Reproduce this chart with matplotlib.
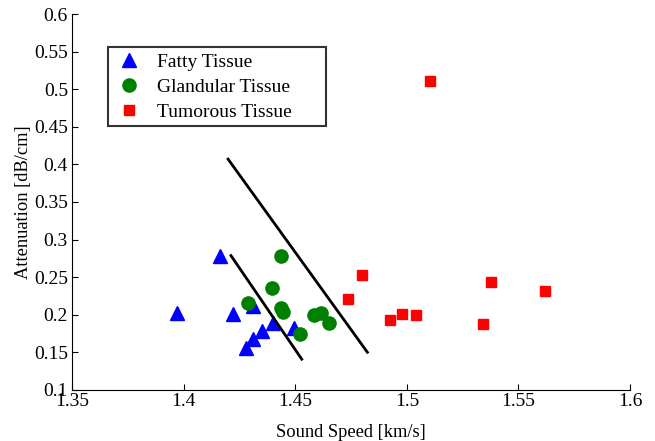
import matplotlib
matplotlib.use('Agg')
import matplotlib.pyplot as plt

# Data
fatty_speed = [1.397, 1.4165, 1.422, 1.431, 1.440, 1.4353, 1.4312, 1.4278, 1.4495]
fatty_atten = [0.202, 0.278, 0.201, 0.212, 0.189, 0.178, 0.1675, 0.1556, 0.182]

gland_speed = [1.4434, 1.4395, 1.4287, 1.4435, 1.4444, 1.4586, 1.4616, 1.465, 1.452]
gland_atten = [0.278, 0.235, 0.215, 0.209, 0.2036, 0.199, 0.2023, 0.189, 0.1747]

tumor_speed = [1.5102, 1.4797, 1.4734, 1.5377, 1.5617, 1.4923, 1.4977, 1.504, 1.5343]
tumor_atten = [0.511, 0.2533, 0.221, 0.244, 0.232, 0.1924, 0.2004, 0.199, 0.187]

# two separating lines
line1_x = [1.4199, 1.4823]
line1_y = [0.407, 0.150]
line2_x = [1.4212, 1.4529]
line2_y = [0.2786, 0.1408]

plt.rcParams['font.family'] = ['Liberation Serif', 'DejaVu Serif']

fig = plt.figure(figsize=(6.55, 4.41), dpi=100)
ax = fig.add_axes([0.110, 0.116, 0.852, 0.852])

ax.plot(fatty_speed, fatty_atten, linestyle='none', marker='^', markersize=10,
        color='#0000ff', label='Fatty Tissue')
ax.plot(gland_speed, gland_atten, linestyle='none', marker='o', markersize=9.5,
        color='#008000', label='Glandular Tissue')
ax.plot(tumor_speed, tumor_atten, linestyle='none', marker='s', markersize=7,
        color='#ff0000', label='Tumorous Tissue')

ax.plot(line1_x, line1_y, color='black', linewidth=2)
ax.plot(line2_x, line2_y, color='black', linewidth=2)

ax.set_xlim(1.35, 1.6)
ax.set_ylim(0.1, 0.6)
ax.set_xticks([1.35, 1.4, 1.45, 1.5, 1.55, 1.6])
ax.set_xticklabels(['1.35', '1.4', '1.45', '1.5', '1.55', '1.6'])
ax.set_yticks([0.1, 0.15, 0.2, 0.25, 0.3, 0.35, 0.4, 0.45, 0.5, 0.55, 0.6])
ax.set_yticklabels(['0.1', '0.15', '0.2', '0.25', '0.3', '0.35', '0.4', '0.45',
                    '0.5', '0.55', '0.6'])

ax.spines['top'].set_visible(False)
ax.spines['right'].set_visible(False)
ax.tick_params(direction='in', length=4, labelsize=14)
ax.tick_params(axis='y', pad=3)
ax.tick_params(axis='x', pad=2)

ax.set_xlabel('Sound Speed [km/s]', fontsize=13.3, labelpad=10)
ax.set_ylabel('Attenuation [dB/cm]', fontsize=13.3, labelpad=1)

# legend box stretched to the width seen in the reference
leg = ax.legend(loc='upper left', bbox_to_anchor=(0.0645, 0.912, 0.39, 0.0),
                mode='expand', fontsize=14,
                frameon=True, fancybox=False, edgecolor='black',
                handlelength=1.6, handletextpad=0.6, borderpad=0.3,
                labelspacing=0.38, borderaxespad=0, numpoints=1)
leg.get_frame().set_linewidth(1.5)

fig.savefig('out.png', dpi=100)
